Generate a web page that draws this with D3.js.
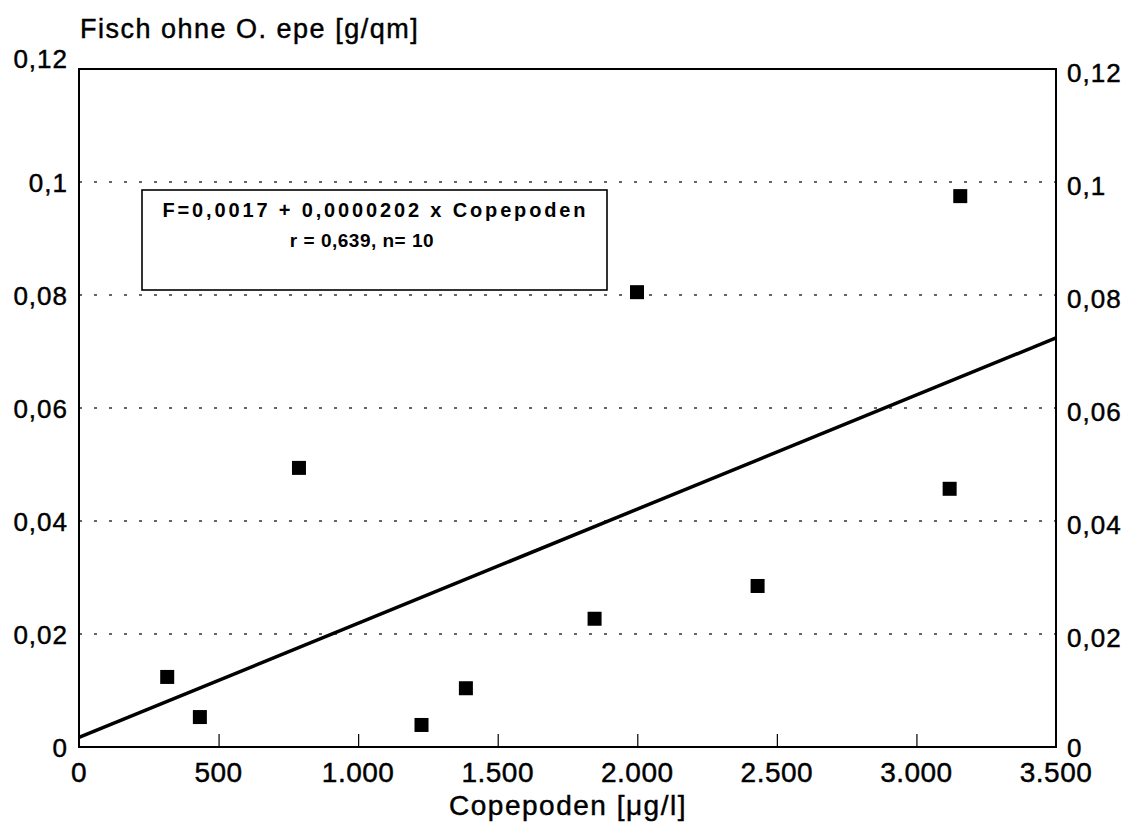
<!DOCTYPE html>
<html>
<head>
<meta charset="utf-8">
<script src="https://cdn.jsdelivr.net/npm/d3@7"></script>
<style>
  html, body { margin: 0; padding: 0; background: #fff; }
  svg { display: block; }
  text { font-family: "Liberation Sans", Arial, Helvetica, sans-serif; fill: #000; }
  .heavy { stroke: #000; stroke-width: 0.45px; }
</style>
</head>
<body>
<svg id="chart" width="1131" height="839"></svg>
<script>
// ---- data ----
const copepoden = [316, 433, 788, 1227, 1386, 1847, 1999, 2431, 3119, 3157];
const fisch     = [0.0124, 0.0053, 0.0494, 0.0039, 0.0104, 0.0227, 0.0805, 0.0285, 0.0457, 0.0975];
const xTicks = [0, 500, 1000, 1500, 2000, 2500, 3000, 3500];
const xTickLabels = ["0", "500", "1.000", "1.500", "2.000", "2.500", "3.000", "3.500"];
const yTicks = [0, 0.02, 0.04, 0.06, 0.08, 0.1, 0.12];
const yTickLabels = ["0", "0,02", "0,04", "0,06", "0,08", "0,1", "0,12"];
const regIntercept = 0.0017;
const regSlope = 0.0000202;
const regLine1 = "F=0,0017 + 0,0000202 x Copepoden";
const regLine2 = "r = 0,639, n= 10";
const yTitle = "Fisch ohne O. epe [g/qm]";
const xTitle = "Copepoden [\u03BCg/l]";

// ---- layout ----
const L = 79, R = 1056, T = 69, B = 747;
const svg = d3.select("#chart");
const x = d3.scaleLinear().domain([0, 3500]).range([L, R]);
const y = d3.scaleLinear().domain([0, 0.12]).range([B, T]);

// gridlines
svg.append("g").selectAll("line")
  .data(yTicks.filter(v => v > 0 && v < 0.12))
  .join("line")
  .attr("x1", L).attr("x2", R)
  .attr("y1", d => y(d)).attr("y2", d => y(d))
  .attr("stroke", "#333").attr("stroke-width", 1.3)
  .attr("stroke-dasharray", "3,12");

// x ticks (inward)
const xAxis = d3.axisBottom(x).tickValues(xTicks.slice(1, -1)).tickSize(-13).tickFormat("");
const gx = svg.append("g").attr("transform", `translate(0,${B})`).call(xAxis);
gx.select(".domain").remove();
gx.selectAll("line").attr("stroke", "#000").attr("stroke-width", 1.2);

// x labels
svg.append("g").selectAll("text")
  .data(xTicks)
  .join("text")
  .attr("class", "heavy")
  .attr("x", d => x(d))
  .attr("y", 782)
  .attr("text-anchor", "middle")
  .attr("font-size", 28)
  .attr("letter-spacing", 0.5)
  .text((d, i) => xTickLabels[i]);

// y labels left
svg.append("g").selectAll("text")
  .data(yTicks)
  .join("text")
  .attr("class", "heavy")
  .attr("x", 68)
  .attr("y", d => y(d) + (d === 0.12 ? -1 : 10))
  .attr("text-anchor", "end")
  .attr("font-size", 26)
  .attr("letter-spacing", 1)
  .text((d, i) => yTickLabels[i]);

// y labels right
svg.append("g").selectAll("text")
  .data(yTicks)
  .join("text")
  .attr("class", "heavy")
  .attr("x", 1067)
  .attr("y", d => y(d) + (d === 0 ? 10 : 13))
  .attr("text-anchor", "start")
  .attr("font-size", 26)
  .attr("letter-spacing", 1)
  .text((d, i) => yTickLabels[i]);

// frame
svg.append("rect")
  .attr("x", L).attr("y", T).attr("width", R - L).attr("height", B - T)
  .attr("fill", "none").attr("stroke", "#000").attr("stroke-width", 2);

// regression line
svg.append("line")
  .attr("x1", x(0)).attr("y1", y(regIntercept + regSlope * 0))
  .attr("x2", x(3500)).attr("y2", y(regIntercept + regSlope * 3500))
  .attr("stroke", "#000").attr("stroke-width", 3.5);

// points
const pts = copepoden.map((c, i) => ({ c, f: fisch[i] }));
svg.append("g").selectAll("rect")
  .data(pts)
  .join("rect")
  .attr("x", d => x(d.c) - 7)
  .attr("y", d => y(d.f) - 7)
  .attr("width", 14).attr("height", 14)
  .attr("fill", "#000");

// equation box
svg.append("rect")
  .attr("x", 142).attr("y", 190).attr("width", 465).attr("height", 100)
  .attr("fill", "#fff").attr("stroke", "#000").attr("stroke-width", 1.6);
svg.append("text")
  .attr("x", 374).attr("y", 217)
  .attr("text-anchor", "middle")
  .attr("font-size", 20).attr("font-weight", "bold")
  .attr("textLength", 423).attr("lengthAdjust", "spacing")
  .text(regLine1);
svg.append("text")
  .attr("x", 362).attr("y", 247)
  .attr("text-anchor", "middle")
  .attr("font-size", 19).attr("font-weight", "bold")
  .attr("letter-spacing", 0.5)
  .text(regLine2);

// titles
svg.append("text")
  .attr("class", "heavy")
  .attr("x", 80).attr("y", 38)
  .attr("font-size", 27)
  .attr("letter-spacing", 1.5)
  .text(yTitle);
svg.append("text")
  .attr("class", "heavy")
  .attr("x", 568).attr("y", 815)
  .attr("text-anchor", "middle")
  .attr("font-size", 28)
  .attr("letter-spacing", 1.5)
  .text(xTitle);
</script>
</body>
</html>
